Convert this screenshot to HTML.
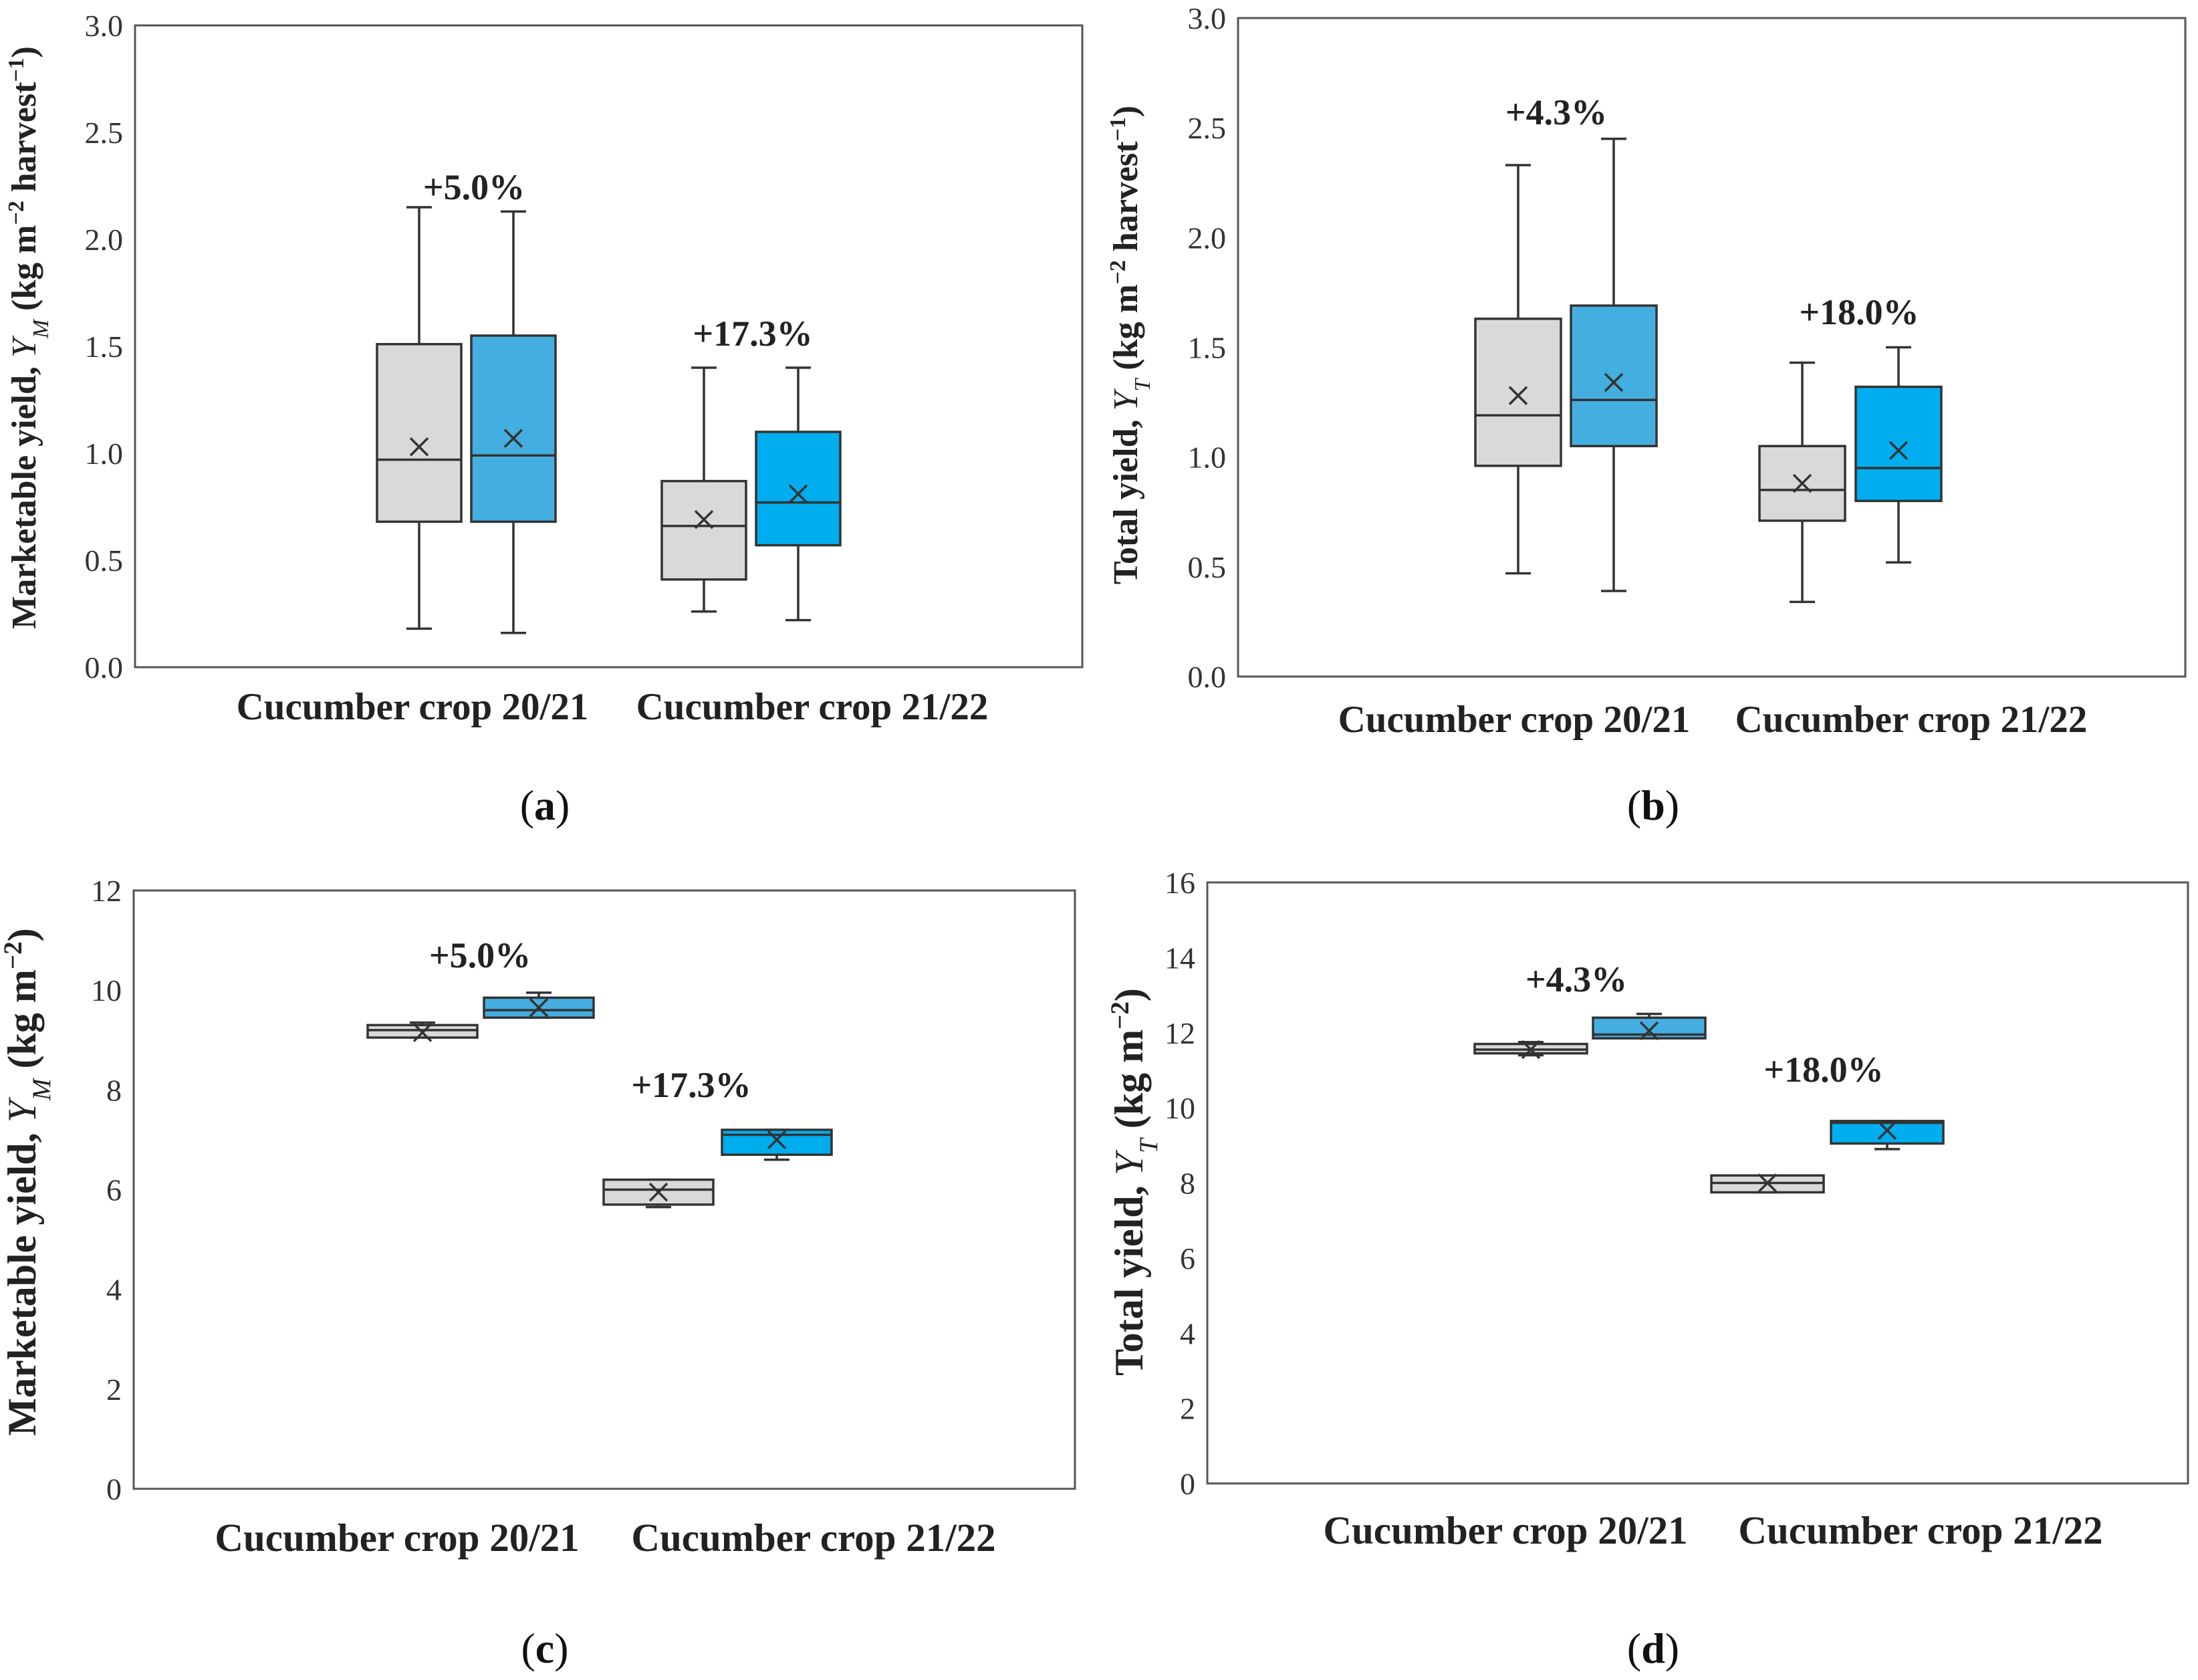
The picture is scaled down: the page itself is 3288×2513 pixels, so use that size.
<!DOCTYPE html>
<html><head><meta charset="utf-8"><style>
html,body{margin:0;padding:0;background:#fff}
svg{display:block;font-family:"Liberation Serif",serif}
</style></head><body>
<svg id="chart" width="3288" height="2513" viewBox="0 0 3288 2513" xmlns="http://www.w3.org/2000/svg"></svg>
<script>
const categories = ["Cucumber crop 20/21", "Cucumber crop 21/22"];
// each box: [min, q1, median, q3, max, mean]
const aBoxes = [[0.18,0.68,0.97,1.51,2.15,1.03],[0.16,0.68,0.99,1.55,2.13,1.07],[0.26,0.41,0.66,0.87,1.40,0.69],[0.22,0.57,0.77,1.10,1.40,0.81]];
const bBoxes = [[0.47,0.96,1.19,1.63,2.33,1.28],[0.39,1.05,1.26,1.69,2.45,1.34],[0.34,0.71,0.85,1.05,1.43,0.88],[0.52,0.80,0.95,1.32,1.50,1.03]];
const cBoxes = [[9.05,9.05,9.2,9.3,9.35,9.15],[9.45,9.45,9.6,9.85,9.95,9.65],[5.65,5.7,6.0,6.2,6.2,5.95],[6.6,6.7,7.1,7.2,7.2,7.0]];
const dBoxes = [[11.4,11.45,11.55,11.7,11.75,11.55],[11.85,11.85,11.95,12.4,12.5,12.05],[7.75,7.75,8.0,8.2,8.2,8.0],[8.9,9.05,9.6,9.65,9.65,9.4]];
const aTicks = ["0.0","0.5","1.0","1.5","2.0","2.5","3.0"];
const bTicks = ["0.0","0.5","1.0","1.5","2.0","2.5","3.0"];
const cTicks = ["0","2","4","6","8","10","12"];
const dTicks = ["0","2","4","6","8","10","12","14","16"];
const aPct = ["+5.0%","+17.3%"];
const bPct = ["+4.3%","+18.0%"];
const cPct = ["+5.0%","+17.3%"];
const dPct = ["+4.3%","+18.0%"];

const svg = document.getElementById('chart');
const NS = 'http://www.w3.org/2000/svg';
function mk(tag, attrs, parent){const e=document.createElementNS(NS,tag);for(const k in attrs)e.setAttribute(k,attrs[k]);(parent||svg).appendChild(e);return e;}

const fills = ["#d9d9d9","#45aee0","#d9d9d9","#00aeef"];

function panel(p){
  const g = mk('g',{});
  
  
  const ymax = parseFloat(p.ticks[p.ticks.length-1]);
  const y = v => p.y1 - (v/ymax)*(p.y1-p.y0);
  const frame = mk('rect',{x:p.x0,y:p.y0,width:p.x1-p.x0,height:p.y1-p.y0,fill:'none',stroke:'#555',"stroke-width":3},g);
  
  
  p.ticks.forEach(t=>{
    const tx = mk('text',{x:p.x0-18,y:y(parseFloat(t))+16,"text-anchor":"end","font-size":46,fill:'#333'},g);
    tx.textContent=t;
    
    
  });
  p.boxes.forEach((b,i)=>{
    const cx=p.cx[i], w=p.bw, cw=38;
    const bg = mk('g',{stroke:'#333',"stroke-width":3.5,fill:'none'},g);
    
    
    mk('line',{x1:cx,x2:cx,y1:y(b[0]),y2:y(b[1])},bg);
    mk('line',{x1:cx,x2:cx,y1:y(b[3]),y2:y(b[4])},bg);
    mk('line',{x1:cx-cw/2,x2:cx+cw/2,y1:y(b[0]),y2:y(b[0])},bg);
    mk('line',{x1:cx-cw/2,x2:cx+cw/2,y1:y(b[4]),y2:y(b[4])},bg);
    mk('rect',{x:cx-w/2,y:y(b[3]),width:w,height:Math.max(y(b[1])-y(b[3]),1),fill:fills[i]},bg);
    mk('line',{x1:cx-w/2,x2:cx+w/2,y1:y(b[2]),y2:y(b[2])},bg);
    const m=13, my=y(b[5]);
    mk('path',{d:`M${cx-m},${my-m}L${cx+m},${my+m}M${cx-m},${my+m}L${cx+m},${my-m}`},bg);
  });
  p.pct.forEach((t,i)=>{
    const tx=mk('text',{x:p.px[i],y:p.py[i]+18,"text-anchor":"middle","font-size":54,"font-weight":"bold",fill:'#222'},g);
    tx.textContent=t;
    
    
  });
  categories.forEach((c,i)=>{
    const tx=mk('text',{x:p.catx[i],y:p.caty+19,"text-anchor":"middle","font-size":p.catfs,"font-weight":"bold",fill:'#222'},g);
    tx.textContent=c;
    
    
  });
  const yt=mk('text',{transform:`translate(${p.tx},${p.ty}) rotate(-90)`,"text-anchor":"middle","font-size":p.tfs,"font-weight":"bold",fill:'#222'},g);
  
  
  yt.innerHTML=p.title;
  const lb=mk('text',{x:p.lx,y:p.ly+20,"text-anchor":"middle","font-size":64,fill:'#111'},g);
  lb.innerHTML=p.label;
  
  
}

const sup = s => `<tspan baseline-shift="super" font-size="0.65em">${s}</tspan>`;
const sub = s => `<tspan font-style="italic" font-weight="normal">Y</tspan><tspan baseline-shift="sub" font-size="0.65em" font-style="italic" font-weight="normal">${s}</tspan>`;

panel({id:'a',x0:202,x1:1619,y0:38,y1:998,ticks:aTicks,boxes:aBoxes,cx:[627,768,1053,1194],bw:126,
  pct:aPct,px:[709,1126],py:[280,499],catx:[617,1215],caty:1057,catfs:57,tx:53,ty:505,tfs:52,lx:815,ly:1206,
  title:`Marketable yield, ${sub('M')} (kg m${sup('−2')} harvest${sup('−1')})`,label:'(<tspan font-weight="bold">a</tspan>)'});
panel({id:'b',x0:1852,x1:3269,y0:27,y1:1012,ticks:bTicks,boxes:bBoxes,cx:[2271,2414,2696,2840],bw:128,
  pct:bPct,px:[2328,2781],py:[168,467],catx:[2265,2859],caty:1076,catfs:57,tx:1701,ty:516,tfs:52,lx:2473,ly:1206,
  title:`Total yield, ${sub('T')}  (kg m${sup('−2')} harvest${sup('−1')})`,label:'(<tspan font-weight="bold">b</tspan>)'});
panel({id:'c',x0:200,x1:1608,y0:1332,y1:2227,ticks:cTicks,boxes:cBoxes,cx:[632,806,985,1162],bw:164,
  pct:cPct,px:[718,1034],py:[1429,1623],catx:[594,1217],caty:2301,catfs:59,tx:53,ty:1768,tfs:60,lx:815,ly:2467,
  title:`Marketable yield, ${sub('M')} (kg m${sup('−2')})`,label:'(<tspan font-weight="bold">c</tspan>)'});
panel({id:'d',x0:1806,x1:3273,y0:1320,y1:2219,ticks:dTicks,boxes:dBoxes,cx:[2290,2467,2644,2823],bw:168,
  pct:dPct,px:[2358,2728],py:[1465,1600],catx:[2252,2873],caty:2290,catfs:59,tx:1709,ty:1768,tfs:60,lx:2473,ly:2467,
  title:`Total yield, ${sub('T')} (kg m${sup('−2')})`,label:'(<tspan font-weight="bold">d</tspan>)'});
</script>
</body></html>
